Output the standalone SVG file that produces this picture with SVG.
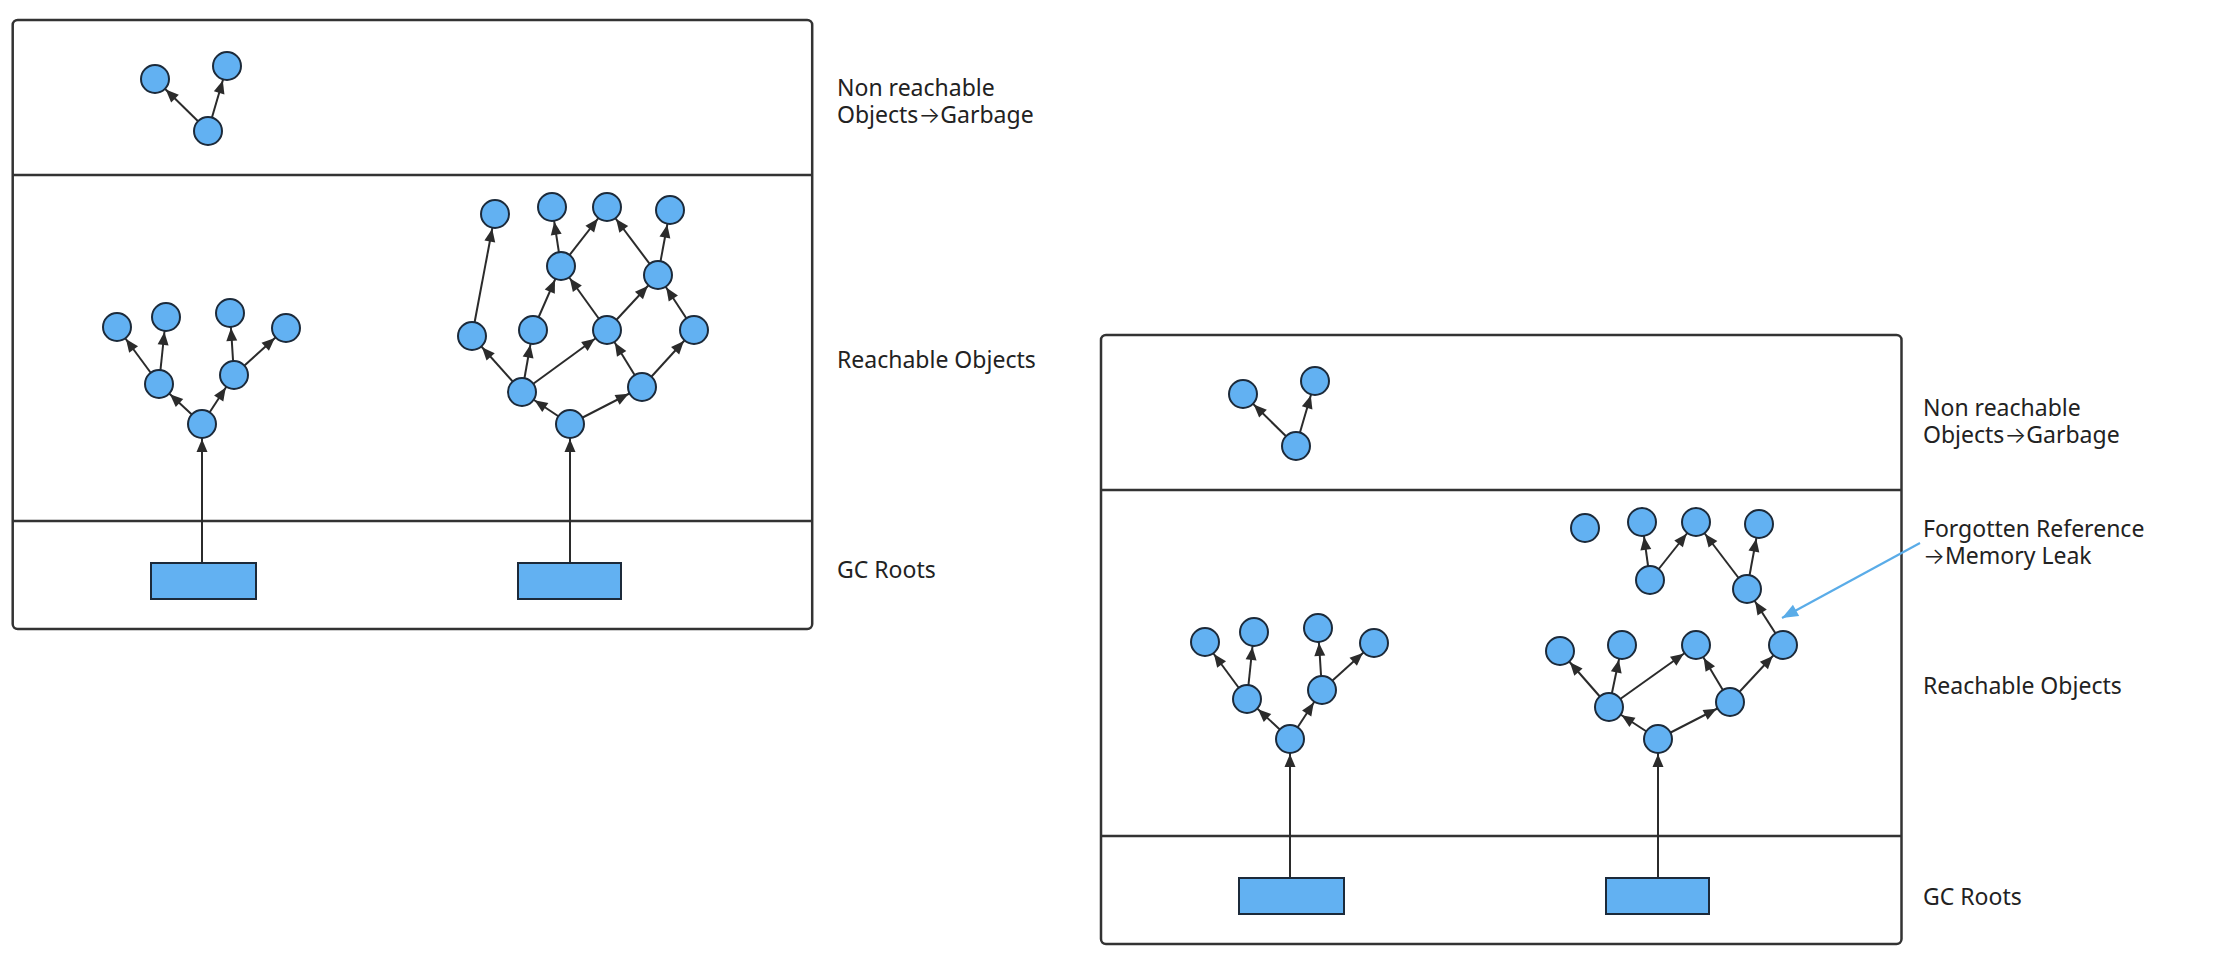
<svg xmlns="http://www.w3.org/2000/svg" width="2219" height="976" viewBox="0 0 2219 976">
<defs>
<style>
.frame{fill:none;stroke:#333;stroke-width:2.5}
.div{stroke:#333;stroke-width:2.5}
.n{fill:#62b1f2;stroke:#1c2a3a;stroke-width:2}
.root{fill:#62b1f2;stroke:#1c2a3a;stroke-width:2}
.e{stroke:#2b2b2b;stroke-width:2;fill:none;marker-end:url(#ah)}
.re{stroke:#2b2b2b;stroke-width:2;fill:none;marker-end:url(#ah)}
.note{stroke:#5aace8;stroke-width:2.2;fill:none;marker-end:url(#bh)}
.lbl{font-family:"Noto Sans","Open Sans","Liberation Sans",sans-serif;font-size:23px;fill:#222}
.arr{font-family:Inter,"DejaVu Sans",sans-serif;font-weight:300}
</style>
<marker id="ah" viewBox="-30 -7 32 14" refX="0" refY="0" markerWidth="32" markerHeight="14" markerUnits="userSpaceOnUse" orient="auto"><path d="M-15,0 L-28,-5.5 L-28,5.5 z" fill="#2b2b2b"/></marker>
<marker id="bh" viewBox="-18 -8 20 16" refX="0" refY="0" markerWidth="20" markerHeight="16" markerUnits="userSpaceOnUse" orient="auto"><path d="M0,0 L-16,-6.5 L-16,6.5 z" fill="#5aace8"/></marker>
</defs>
<rect width="2219" height="976" fill="#fff"/>

<g id="panel-left">
<rect class="frame" x="12.7" y="20" width="799.5" height="609" rx="5"/>
<line class="div" x1="12.7" y1="175" x2="812" y2="175"/>
<line class="div" x1="12.7" y1="521" x2="812" y2="521"/>
<text class="lbl" x="837" y="96">Non reachable</text>
<text class="lbl" x="837" y="123">Objects<tspan class="arr">→</tspan>Garbage</text>
<text class="lbl" x="837" y="368">Reachable Objects</text>
<text class="lbl" x="837" y="578">GC Roots</text>
</g>

<g id="panel-right">
<rect class="frame" x="1101" y="335" width="800.5" height="609" rx="5"/>
<line class="div" x1="1101" y1="490" x2="1901" y2="490"/>
<line class="div" x1="1101" y1="836" x2="1901" y2="836"/>
<text class="lbl" x="1923" y="416">Non reachable</text>
<text class="lbl" x="1923" y="443">Objects<tspan class="arr">→</tspan>Garbage</text>
<text class="lbl" x="1923" y="537">Forgotten Reference</text>
<text class="lbl" x="1923" y="564"><tspan class="arr">→</tspan>Memory Leak</text>
<text class="lbl" x="1923" y="694">Reachable Objects</text>
<text class="lbl" x="1923" y="905">GC Roots</text>
</g>

<g id="connectors">
<line class="e" x1="208" y1="131" x2="155" y2="79"/>
<line class="e" x1="208" y1="131" x2="227" y2="66"/>
<line class="re" x1="202" y1="563" x2="202" y2="424"/>
<line class="e" x1="202" y1="424" x2="159" y2="384"/>
<line class="e" x1="202" y1="424" x2="234" y2="375"/>
<line class="e" x1="159" y1="384" x2="117" y2="327"/>
<line class="e" x1="159" y1="384" x2="166" y2="317"/>
<line class="e" x1="234" y1="375" x2="230" y2="313"/>
<line class="e" x1="234" y1="375" x2="286" y2="328"/>
<line class="re" x1="570" y1="563" x2="570" y2="424"/>
<line class="e" x1="570" y1="424" x2="522" y2="392"/>
<line class="e" x1="570" y1="424" x2="642" y2="387"/>
<line class="e" x1="522" y1="392" x2="472" y2="336"/>
<line class="e" x1="522" y1="392" x2="533" y2="330"/>
<line class="e" x1="522" y1="392" x2="607" y2="330"/>
<line class="e" x1="642" y1="387" x2="607" y2="330"/>
<line class="e" x1="642" y1="387" x2="694" y2="330"/>
<line class="e" x1="472" y1="336" x2="495" y2="214"/>
<line class="e" x1="533" y1="330" x2="561" y2="266"/>
<line class="e" x1="607" y1="330" x2="561" y2="266"/>
<line class="e" x1="607" y1="330" x2="658" y2="275"/>
<line class="e" x1="694" y1="330" x2="658" y2="275"/>
<line class="e" x1="561" y1="266" x2="552" y2="207"/>
<line class="e" x1="561" y1="266" x2="607" y2="207"/>
<line class="e" x1="658" y1="275" x2="607" y2="207"/>
<line class="e" x1="658" y1="275" x2="670" y2="210"/>
<line class="e" x1="1296" y1="446" x2="1243" y2="394"/>
<line class="e" x1="1296" y1="446" x2="1315" y2="381"/>
<line class="re" x1="1290" y1="878" x2="1290" y2="739"/>
<line class="e" x1="1290" y1="739" x2="1247" y2="699"/>
<line class="e" x1="1290" y1="739" x2="1322" y2="690"/>
<line class="e" x1="1247" y1="699" x2="1205" y2="642"/>
<line class="e" x1="1247" y1="699" x2="1254" y2="632"/>
<line class="e" x1="1322" y1="690" x2="1318" y2="628"/>
<line class="e" x1="1322" y1="690" x2="1374" y2="643"/>
<line class="re" x1="1658" y1="878" x2="1658" y2="739"/>
<line class="e" x1="1658" y1="739" x2="1609" y2="707"/>
<line class="e" x1="1658" y1="739" x2="1730" y2="702"/>
<line class="e" x1="1609" y1="707" x2="1560" y2="651"/>
<line class="e" x1="1609" y1="707" x2="1622" y2="645"/>
<line class="e" x1="1609" y1="707" x2="1696" y2="645"/>
<line class="e" x1="1730" y1="702" x2="1696" y2="645"/>
<line class="e" x1="1730" y1="702" x2="1783" y2="645"/>
<line class="e" x1="1783" y1="645" x2="1747" y2="589"/>
<line class="e" x1="1747" y1="589" x2="1696" y2="522"/>
<line class="e" x1="1747" y1="589" x2="1759" y2="524"/>
<line class="e" x1="1650" y1="580" x2="1642" y2="522"/>
<line class="e" x1="1650" y1="580" x2="1696" y2="522"/>
<line class="note" x1="1920" y1="543" x2="1782" y2="618"/>
</g>

<g id="left-garbage">
<circle class="n" cx="155" cy="79" r="14"/>
<circle class="n" cx="227" cy="66" r="14"/>
<circle class="n" cx="208" cy="131" r="14"/>
</g>
<g id="left-tree1">
<rect class="root" x="151" y="563" width="105" height="36"/>
<circle class="n" cx="202" cy="424" r="14"/>
<circle class="n" cx="159" cy="384" r="14"/>
<circle class="n" cx="234" cy="375" r="14"/>
<circle class="n" cx="117" cy="327" r="14"/>
<circle class="n" cx="166" cy="317" r="14"/>
<circle class="n" cx="230" cy="313" r="14"/>
<circle class="n" cx="286" cy="328" r="14"/>
</g>
<g id="left-tree2">
<rect class="root" x="518" y="563" width="103" height="36"/>
<circle class="n" cx="570" cy="424" r="14"/>
<circle class="n" cx="522" cy="392" r="14"/>
<circle class="n" cx="642" cy="387" r="14"/>
<circle class="n" cx="472" cy="336" r="14"/>
<circle class="n" cx="533" cy="330" r="14"/>
<circle class="n" cx="607" cy="330" r="14"/>
<circle class="n" cx="694" cy="330" r="14"/>
<circle class="n" cx="561" cy="266" r="14"/>
<circle class="n" cx="658" cy="275" r="14"/>
<circle class="n" cx="495" cy="214" r="14"/>
<circle class="n" cx="552" cy="207" r="14"/>
<circle class="n" cx="607" cy="207" r="14"/>
<circle class="n" cx="670" cy="210" r="14"/>
</g>
<g id="right-garbage">
<circle class="n" cx="1243" cy="394" r="14"/>
<circle class="n" cx="1315" cy="381" r="14"/>
<circle class="n" cx="1296" cy="446" r="14"/>
</g>
<g id="right-tree1">
<rect class="root" x="1239" y="878" width="105" height="36"/>
<circle class="n" cx="1290" cy="739" r="14"/>
<circle class="n" cx="1247" cy="699" r="14"/>
<circle class="n" cx="1322" cy="690" r="14"/>
<circle class="n" cx="1205" cy="642" r="14"/>
<circle class="n" cx="1254" cy="632" r="14"/>
<circle class="n" cx="1318" cy="628" r="14"/>
<circle class="n" cx="1374" cy="643" r="14"/>
</g>
<g id="right-tree2">
<rect class="root" x="1606" y="878" width="103" height="36"/>
<circle class="n" cx="1658" cy="739" r="14"/>
<circle class="n" cx="1609" cy="707" r="14"/>
<circle class="n" cx="1730" cy="702" r="14"/>
<circle class="n" cx="1560" cy="651" r="14"/>
<circle class="n" cx="1622" cy="645" r="14"/>
<circle class="n" cx="1696" cy="645" r="14"/>
<circle class="n" cx="1783" cy="645" r="14"/>
<circle class="n" cx="1747" cy="589" r="14"/>
<circle class="n" cx="1650" cy="580" r="14"/>
<circle class="n" cx="1585" cy="528" r="14"/>
<circle class="n" cx="1642" cy="522" r="14"/>
<circle class="n" cx="1696" cy="522" r="14"/>
<circle class="n" cx="1759" cy="524" r="14"/>
</g>
</svg>
